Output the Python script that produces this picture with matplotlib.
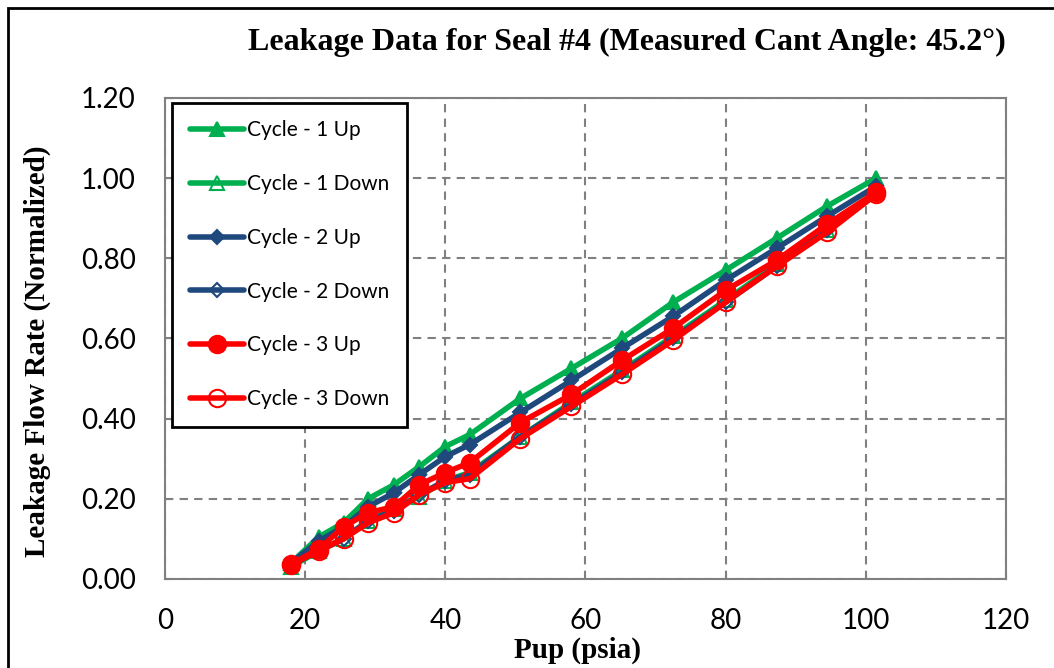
import matplotlib.pyplot as plt
from matplotlib.patches import Rectangle

# Supply pressure (psia), shared by every run
pup = [18, 22, 25.5, 29, 32.7, 36.3, 40, 43.5, 50.7, 58, 65.2, 72.5, 80, 87.3, 94.5, 101.5]

# Normalized leakage per cycle
c1_up = [0.04, 0.105, 0.14, 0.20, 0.235, 0.28, 0.33, 0.36, 0.45, 0.525, 0.60, 0.69, 0.77, 0.85, 0.93, 1.00]
c1_down = [0.03, 0.07, 0.10, 0.145, 0.175, 0.205, 0.245, 0.265, 0.355, 0.44, 0.52, 0.605, 0.695, 0.785, 0.87, 0.965]
c2_up = [0.04, 0.095, 0.13, 0.18, 0.215, 0.26, 0.305, 0.335, 0.415, 0.495, 0.575, 0.655, 0.745, 0.825, 0.905, 0.98]
c2_down = [0.035, 0.07, 0.10, 0.145, 0.17, 0.21, 0.245, 0.26, 0.355, 0.435, 0.515, 0.60, 0.69, 0.78, 0.87, 0.96]
c3_up = [0.037, 0.075, 0.13, 0.165, 0.18, 0.235, 0.265, 0.29, 0.39, 0.46, 0.545, 0.625, 0.72, 0.795, 0.885, 0.965]
c3_down = [0.035, 0.07, 0.10, 0.14, 0.165, 0.21, 0.24, 0.25, 0.35, 0.43, 0.51, 0.595, 0.69, 0.78, 0.865, 0.96]

labels = ['Cycle - 1 Up', 'Cycle - 1 Down', 'Cycle - 2 Up',
          'Cycle - 2 Down', 'Cycle - 3 Up', 'Cycle - 3 Down']
x_ticks = [0, 20, 40, 60, 80, 100, 120]
y_ticks = [0.0, 0.2, 0.4, 0.6, 0.8, 1.0, 1.2]

green = '#00B050'
blue = '#1F497D'
red = '#FF0000'

fig = plt.figure(figsize=(10.54, 6.68), dpi=100)
ax = fig.add_axes([0.1565, 0.1335, 0.798, 0.72])

# outer chart frame (right and bottom edges fall outside the image)
fig.patches.append(Rectangle((8 / 1054, -0.05), 1.2, 1 - 8 / 668 + 0.05,
                             transform=fig.transFigure, fill=False,
                             edgecolor='black', linewidth=2))

series = [
    (c1_up, green, '^', green),
    (c1_down, green, '^', 'none'),
    (c2_up, blue, 'D', blue),
    (c2_down, blue, 'D', 'none'),
    (c3_up, red, 'o', red),
    (c3_down, red, 'o', 'none'),
]
sizes = {'^': 10, 'D': 7.5, 'o': 12.5}
for (vals, col, mk, face), lab in zip(series, labels):
    ax.plot(pup, vals, color=col, linewidth=4, marker=mk, markersize=sizes[mk],
            markerfacecolor=face, markeredgecolor=col, markeredgewidth=1.5,
            label=lab, solid_capstyle='round')

ax.set_xlim(0, 120)
ax.set_ylim(0, 1.2)
ax.set_xticks(x_ticks)
ax.set_yticks(y_ticks)
ax.set_yticklabels([f'{v:.2f}' for v in y_ticks])
ax.tick_params(labelsize=20, colors='#808080', labelcolor='black', length=4,
               direction='in')
ax.tick_params(axis='x', pad=21)
ax.tick_params(axis='y', pad=21)
for lab in ax.get_xticklabels() + ax.get_yticklabels():
    lab.set_family('Lato')

ax.grid(True, color='#808080', linestyle=(0, (4, 3)), linewidth=1.5)
for s in ax.spines.values():
    s.set_color('#808080')
    s.set_linewidth(1.5)

ax.set_xlabel('Pup (psia)', fontsize=21, fontweight='bold', family='Liberation Serif')
ax.xaxis.set_label_coords(0.491, -0.12)
ax.set_ylabel('Leakage Flow Rate (Normalized)', fontsize=21, fontweight='bold',
              family='Liberation Serif')
ax.yaxis.set_label_coords(-0.136, 0.473)
fig.text(0.595, 0.937, 'Leakage Data for Seal #4 (Measured Cant Angle: 45.2°)',
         ha='center', va='center', fontsize=23, fontweight='bold', family='Liberation Serif')

leg = ax.legend(loc='upper left', bbox_to_anchor=(0.0085, 0.99),
                prop={'family': 'Lato', 'size': 15}, fancybox=False,
                edgecolor='black', framealpha=1, labelspacing=1.62,
                handlelength=2.6, handletextpad=0.15, borderpad=0.85, borderaxespad=0)
leg.get_frame().set_linewidth(2)

fig.savefig('out.png', dpi=100)
